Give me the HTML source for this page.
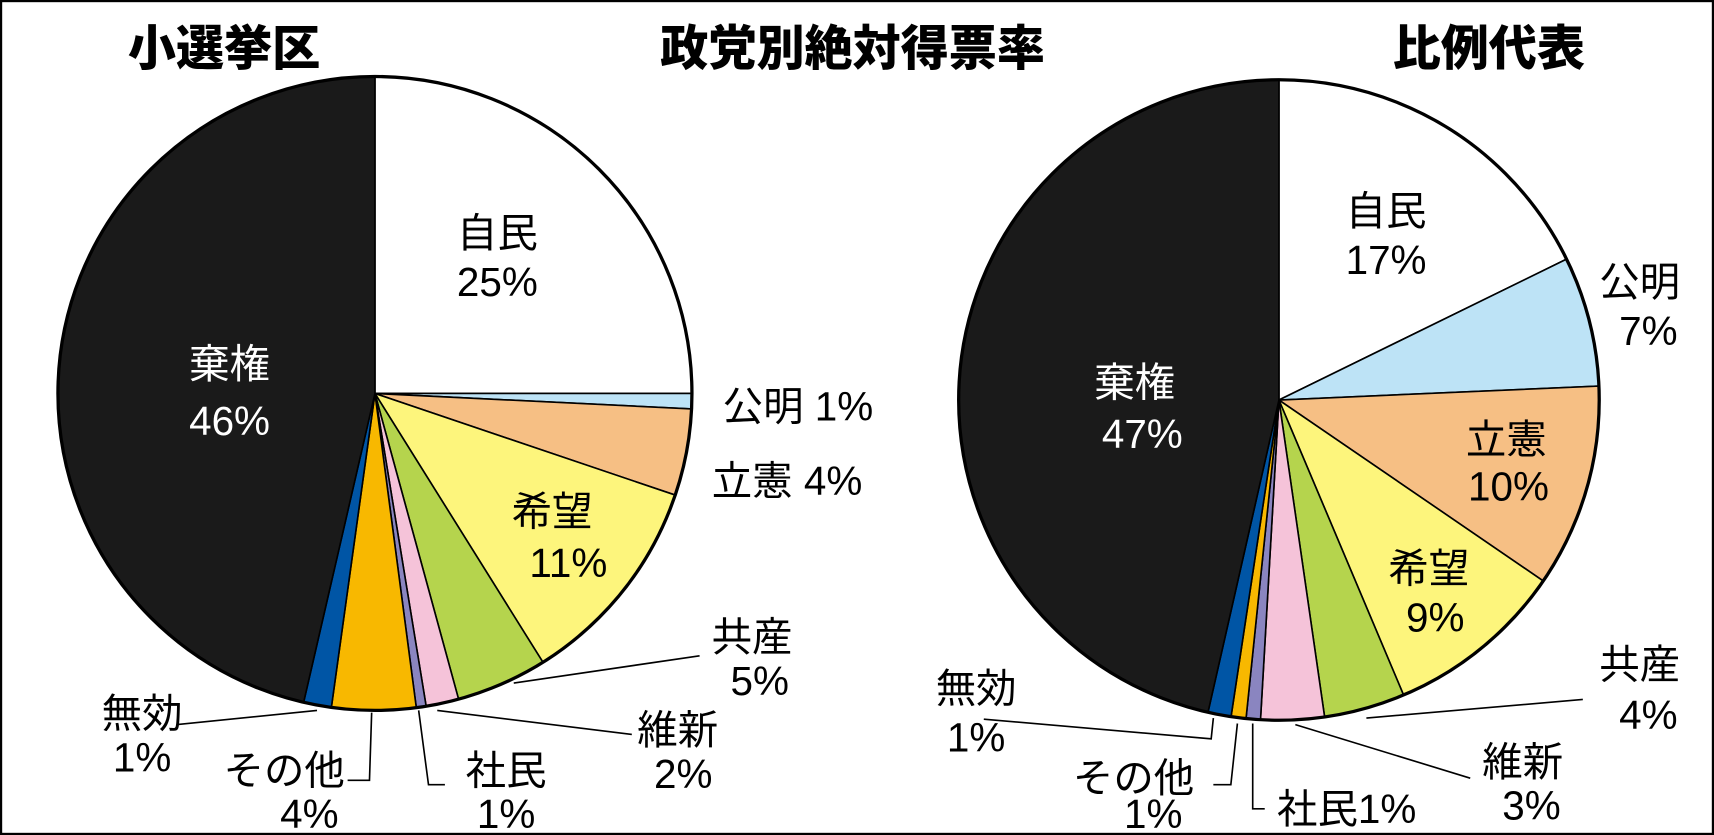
<!DOCTYPE html>
<html><head><meta charset="utf-8"><style>
html,body{margin:0;padding:0;background:#fff}
svg{display:block}
text{font-family:"Liberation Sans","Noto Sans CJK JP",sans-serif;font-size:37px;font-weight:normal;text-anchor:middle;dominant-baseline:central;fill:#000}
.t{font-size:44px;font-weight:900}
.w{fill:#fff}
</style></head><body>
<svg id="s" width="1714" height="835" viewBox="0 0 1568 764" preserveAspectRatio="none">
<rect x="1" y="1" width="1566" height="762" fill="#fff" stroke="#000" stroke-width="2"/>
<g id="p"></g>
<g stroke="#000" stroke-width="1.5" fill="none">
<polyline points="640,600 470,625"/>
<polyline points="578,672 400,650"/>
<polyline points="407,718 392,718 383,650"/>
<polyline points="318,714 338,714 340,652"/>
<polyline points="162,663 290,650"/>
<polyline points="1448,640 1250,657"/>
<polyline points="1345,712 1185,663"/>
<polyline points="1157,740 1146,740 1146,662"/>
<polyline points="1110,718 1126,718 1132,662"/>
<polyline points="900,658 1108,676 1110,657"/>
</g>
<text class="t" x="205" y="45">小選挙区</text>
<text class="t" x="780" y="45">政党別絶対得票率</text>
<text class="t" x="1362" y="45">比例代表</text>
<text x="455" y="213">自民</text><text x="455" y="258">25%</text>
<text class="w" x="210" y="333">棄権</text><text class="w" x="210" y="385">46%</text>
<text x="730" y="372">公明 1%</text>
<text x="720" y="440">立憲 4%</text>
<text x="505" y="468">希望</text><text x="520" y="515">11%</text>
<text x="688" y="583">共産</text><text x="695" y="623">5%</text>
<text x="620" y="668">維新</text><text x="625" y="708">2%</text>
<text x="463" y="705">社民</text><text x="463" y="745">1%</text>
<text x="260" y="705">その他</text><text x="283" y="745">4%</text>
<text x="130" y="653">無効</text><text x="130" y="693">1%</text>
<text x="1268" y="193">自民</text><text x="1268" y="238">17%</text>
<text x="1500" y="258">公明</text><text x="1508" y="303">7%</text>
<text x="1378" y="402">立憲</text><text x="1380" y="445">10%</text>
<text x="1307" y="520">希望</text><text x="1313" y="565">9%</text>
<text class="w" x="1038" y="350">棄権</text><text class="w" x="1045" y="397">47%</text>
<text x="1500" y="608">共産</text><text x="1508" y="654">4%</text>
<text x="1393" y="697">維新</text><text x="1401" y="737">3%</text>
<text x="1232" y="740">社民1%</text>
<text x="1037" y="712">その他</text><text x="1055" y="745">1%</text>
<text x="893" y="630">無効</text><text x="893" y="675">1%</text>
</svg>
<script>
var cols=["#ffffff","#bde3f6","#f6bf84","#fdf57c","#b5d44d","#f5c3d9","#8a85c0","#f8b800","#0055a5","#1a1a1a"];
function pie(cx,cy,r,b){var g=document.getElementById('p'),prev=0,h='';
b=b.concat([360]);
for(var i=0;i<b.length;i++){var a0=(prev-90)*Math.PI/180,a1=(b[i]-90)*Math.PI/180;
var x0=cx+r*Math.cos(a0),y0=cy+r*Math.sin(a0),x1=cx+r*Math.cos(a1),y1=cy+r*Math.sin(a1);
var l=(b[i]-prev)>180?1:0;
h+='<path d="M'+cx+','+cy+' L'+x0+','+y0+' A'+r+','+r+' 0 '+l+' 1 '+x1+','+y1+' Z" fill="'+cols[i]+'" stroke="#000" stroke-width="1.5"/>';prev=b[i];}
h+='<circle cx="'+cx+'" cy="'+cy+'" r="'+r+'" fill="none" stroke="#000" stroke-width="3"/>';
g.insertAdjacentHTML('beforeend',h);}
pie(343,360,290,[90,92.8,108.7,148,164.7,170.7,172.5,187.9,193]);
pie(1170,366,293,[63.9,87.5,124.4,157.1,171.8,183.3,185.9,188.6,192.8]);
</script>
</body></html>
